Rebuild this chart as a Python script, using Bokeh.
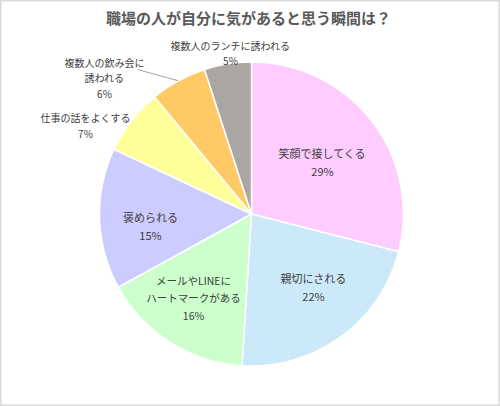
import math
from bokeh.plotting import figure
from bokeh.models import Range1d, ColumnDataSource
from bokeh.core.properties import value
from bokeh.embed import file_html
from bokeh.resources import INLINE

# ---- data ----
title_text = "職場の人が自分に気があると思う瞬間は？"
categories = ["笑顔で接してくる", "親切にされる", "メールやLINEに\nハートマークがある",
              "褒められる", "仕事の話をよくする", "複数人の飲み会に\n誘われる",
              "複数人のランチに誘われる"]
values = [29, 22, 16, 15, 7, 6, 5]
colors = ["#ffccff", "#cce9fa", "#ccffcc", "#ccccff", "#ffff99", "#ffc966", "#aaa6a4"]

# ---- layout (reference pixel coords of page) ----
W, H = 500, 406
def fx(x): return x
def fy(y): return H - y

CX, CY, R = 251, 213.5, 152
# label block centres, font sizes, line spacing
label_pos = [(322, 161), (313, 286), (193, 297), (150, 225), (85, 125), (104, 77), (230, 52)]
label_size = [11, 11, 10.5, 11, 10, 10, 10]
label_gap = [18, 18, 17.5, 18, 16, 15.5, 15]

FONT = "Noto Sans CJK JP"
TXT = "#404040"

p = figure(width=W, height=H, output_backend="svg", toolbar_location=None,
           x_range=Range1d(0, W), y_range=Range1d(0, H), min_border=0,
           outline_line_color="#d9d9d9", outline_line_width=2)
p.axis.visible = False
p.grid.visible = False
p.background_fill_color = "white"

total = sum(values)
starts, ends = [], []
acc = 0.0
for v in values:
    a0 = math.pi / 2 - 2 * math.pi * acc / total
    acc += v
    a1 = math.pi / 2 - 2 * math.pi * acc / total
    starts.append(a0)
    ends.append(a1)

src = ColumnDataSource(dict(start=starts, end=ends, color=colors))
p.wedge(x=fx(CX), y=fy(CY), radius=R, start_angle="start", end_angle="end",
        direction="clock", fill_color="color", line_color="white", line_width=1.5,
        source=src)

# leader line for the 6% slice: from label to the slice's mid-angle edge
i6 = 5
mid = (starts[i6] + ends[i6]) / 2
ex = fx(CX) + R * math.cos(mid)
ey = fy(CY) + R * math.sin(mid)
p.segment(x0=[fx(137)], y0=[fy(69)], x1=[ex], y1=[ey], line_color="#8c8c8c", line_width=0.8)

# labels
for cat, v, (lx, ly), fs, gap in zip(categories, values, label_pos, label_size, label_gap):
    lines = cat.split("\n") + [f"{v}%"]
    n = len(lines)
    xs, ys = [], []
    for k, _ in enumerate(lines):
        xs.append(fx(lx))
        ys.append(fy(ly + (k - (n - 1) / 2) * gap))
    p.text(x=xs, y=ys, text=lines, text_align="center", text_baseline="middle",
           text_font=value(FONT), text_font_size=f"{fs}px", text_color=TXT)

# title
p.text(x=[fx(248)], y=[fy(17)], text=[title_text], text_align="center",
       text_baseline="middle", text_font=value(FONT), text_font_size="15px",
       text_color="#595959", text_font_style="bold")

open("out.html", "w").write(file_html(p, INLINE))
